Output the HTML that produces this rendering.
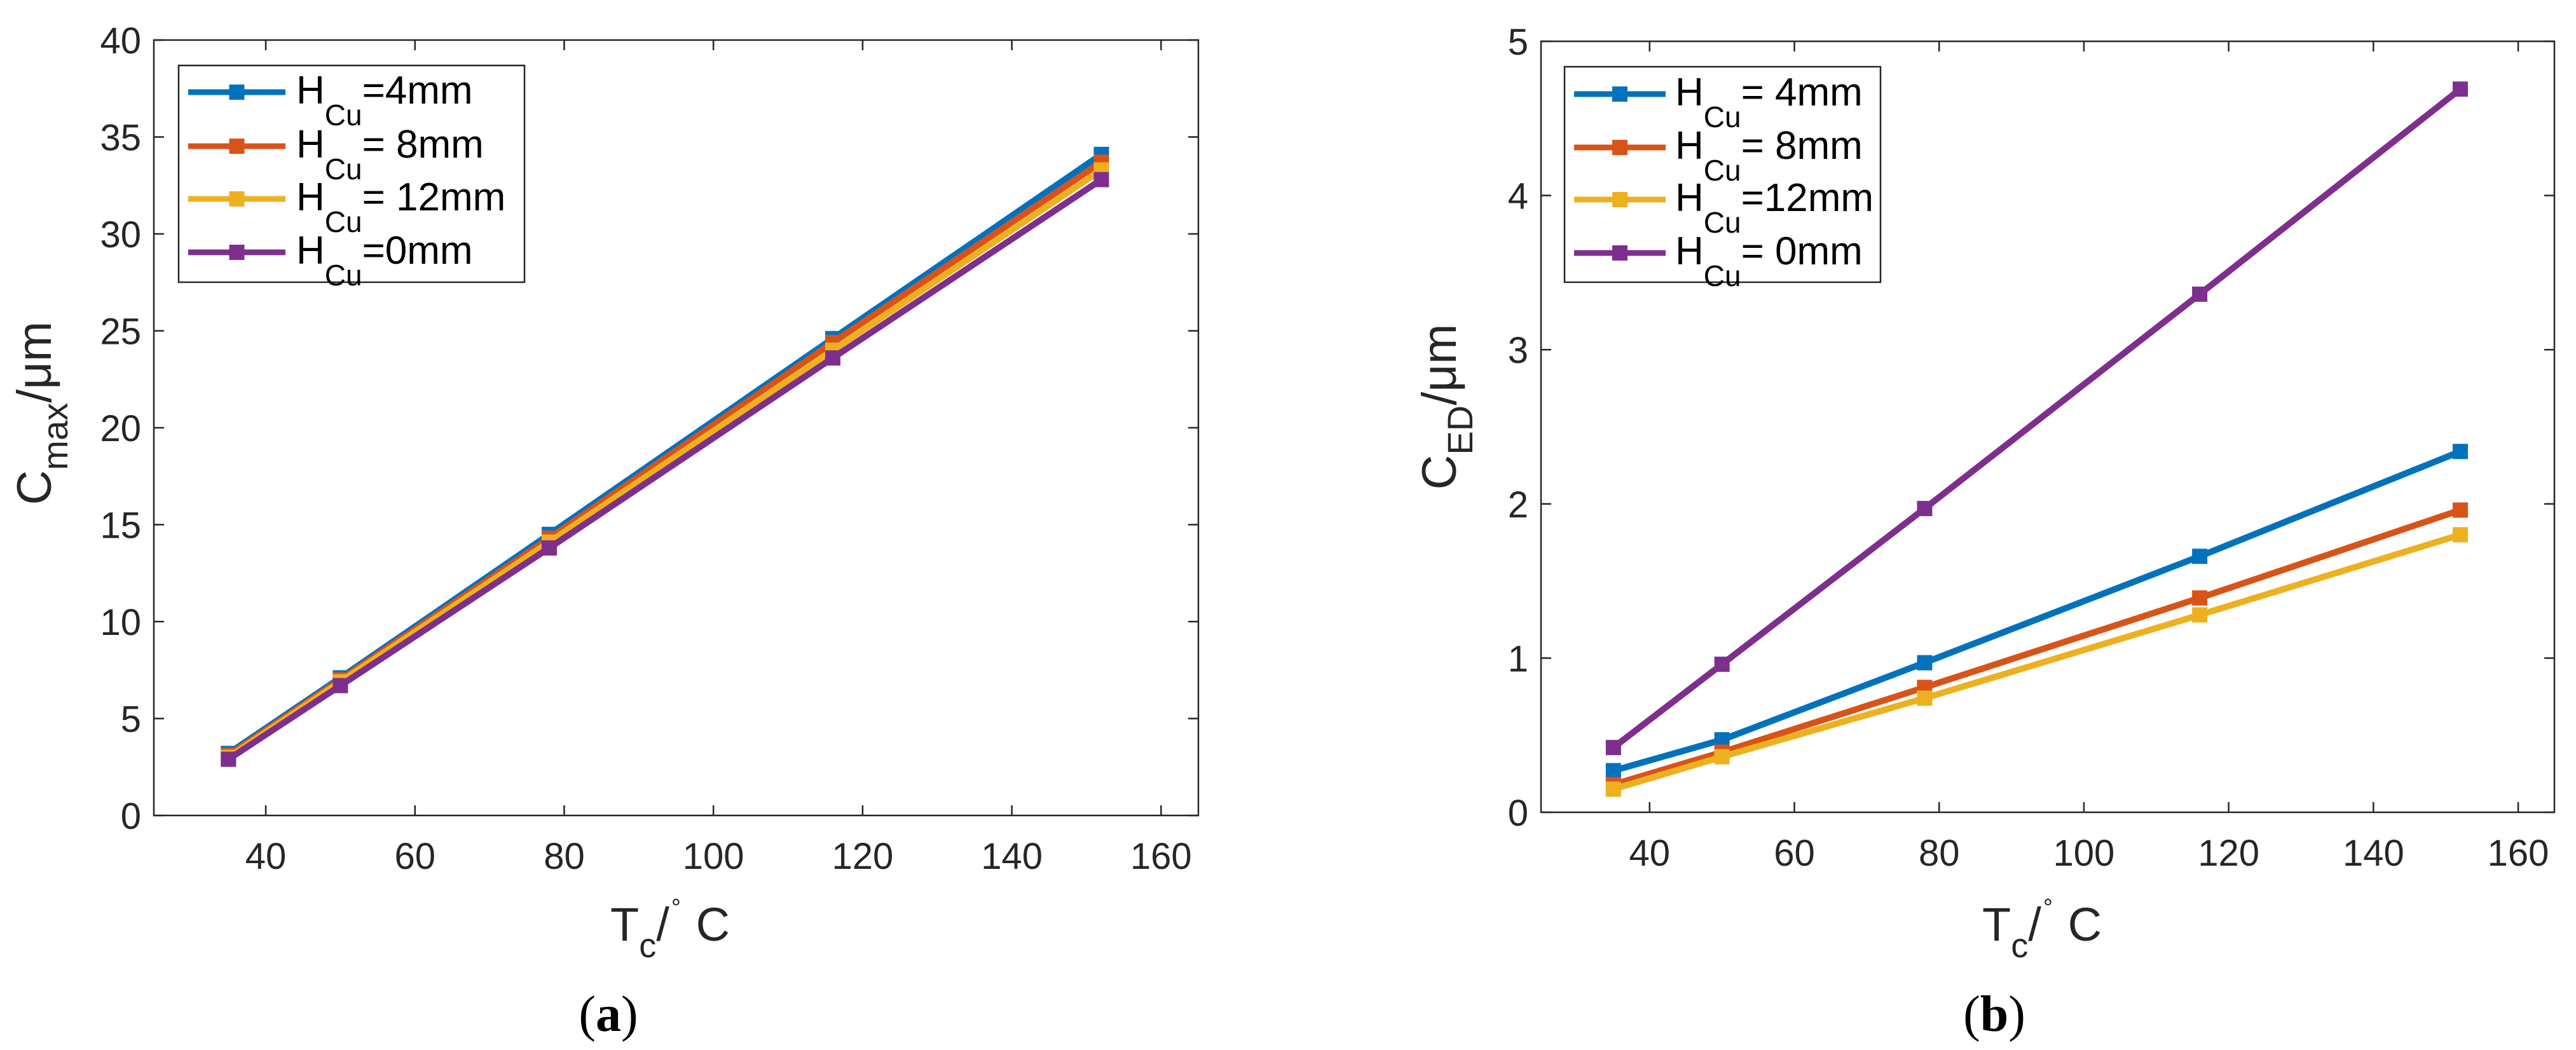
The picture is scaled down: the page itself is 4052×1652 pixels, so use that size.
<!DOCTYPE html>
<html><head><meta charset="utf-8"><style>
html,body{margin:0;padding:0;background:#fff;}
svg{display:block;font-family:"Liberation Sans",Arial,sans-serif;}
</style></head><body>
<svg id="fig" width="4052" height="1652" viewBox="0 0 4052 1652" xmlns="http://www.w3.org/2000/svg">
<rect x="0" y="0" width="4052" height="1652" fill="#fff"/>
</svg>
<script>
const xValues = [35, 50, 78, 116, 152];
const xTicks = [40, 60, 80, 100, 120, 140, 160];
// Panel (a) C_max
const aH4 = [3.2, 7.1, 14.5, 24.6, 34.1];
const aH8 = [3.1, 7.0, 14.3, 24.4, 33.7];
const aH12 = [3.0, 6.9, 14.1, 24.0, 33.3];
const aH0 = [2.9, 6.7, 13.8, 23.6, 32.8];
const aYTicks = [0, 5, 10, 15, 20, 25, 30, 35, 40];
const aLegend = ["=4mm", "= 8mm", "= 12mm", "=0mm"];
// Panel (b) C_ED
const bH4 = [0.27, 0.47, 0.97, 1.66, 2.34];
const bH8 = [0.18, 0.39, 0.81, 1.39, 1.96];
const bH12 = [0.15, 0.36, 0.74, 1.28, 1.80];
const bH0 = [0.42, 0.96, 1.97, 3.36, 4.69];
const bYTicks = [0, 1, 2, 3, 4, 5];
const bLegend = ["= 4mm", "= 8mm", "=12mm", "= 0mm"];
const colors = ["#0072BD", "#D95319", "#EDB120", "#7E2F8E"];

const NS = "http://www.w3.org/2000/svg";
const svg = document.getElementById("fig");
function mk(tag, attrs, parent) {
  const e = document.createElementNS(NS, tag);
  for (const k in attrs) e.setAttribute(k, attrs[k]);
  (parent || svg).appendChild(e);
  return e;
}

function panel(cfg) {
  const g = mk("g", {});
  
  
  const L = cfg.L, R = cfg.R, T = cfg.T, B = cfg.B;
  const sx = v => L + (v - 25) / 140 * (R - L);
  const sy = v => B - (v - cfg.ymin) / (cfg.ymax - cfg.ymin) * (B - T);
  mk("rect", {x: L, y: T, width: R - L, height: B - T, fill: "#fff", stroke: "#262626", "stroke-width": 2.5}, g);
  xTicks.forEach(t => {
    const x = sx(t);
    mk("line", {x1: x, y1: B, x2: x, y2: B - 16, stroke: "#262626", "stroke-width": 2.5}, g);
    mk("line", {x1: x, y1: T, x2: x, y2: T + 16, stroke: "#262626", "stroke-width": 2.5}, g);
    const tx = mk("text", {x: x, y: B + 84, "font-size": 58, "text-anchor": "middle", fill: "#262626"}, g);
    tx.textContent = t;
    
    
  });
  cfg.yTicks.forEach(t => {
    const y = sy(t);
    mk("line", {x1: L, y1: y, x2: L + 16, y2: y, stroke: "#262626", "stroke-width": 2.5}, g);
    mk("line", {x1: R, y1: y, x2: R - 16, y2: y, stroke: "#262626", "stroke-width": 2.5}, g);
    const tx = mk("text", {x: L - 20, y: y + 21, "font-size": 58, "text-anchor": "end", fill: "#262626"}, g);
    tx.textContent = t;
    
    
  });
  cfg.series.forEach((s, i) => {
    const sg = mk("g", {}, g);
    
    
    const pts = xValues.map((xv, j) => sx(xv) + "," + sy(s[j])).join(" ");
    mk("polyline", {points: pts, fill: "none", stroke: colors[i], "stroke-width": 10, "stroke-linejoin": "miter"}, sg);
    xValues.forEach((xv, j) => {
      const r = mk("rect", {x: sx(xv) - 12, y: sy(s[j]) - 12, width: 24, height: 24, fill: colors[i]}, sg);
      
      
    });
  });
  const lg = mk("g", {}, g);
  
  
  const lb = cfg.legend;
  mk("rect", {x: lb.x, y: lb.y, width: lb.w, height: lb.h, fill: "#fff", stroke: "#262626", "stroke-width": 2.5}, lg);
  cfg.legendOrder.forEach((ci, k) => {
    const y = lb.rows[k];
    const eg = mk("g", {}, lg);
    
    
    mk("line", {x1: lb.lx1, y1: y, x2: lb.lx2, y2: y, stroke: colors[ci], "stroke-width": 9}, eg);
    mk("rect", {x: (lb.lx1 + lb.lx2) / 2 - 12, y: y - 12, width: 24, height: 24, fill: colors[ci]}, eg);
    const t = mk("text", {x: lb.tx, y: y + 18, "font-size": 62, fill: "#000"}, eg);
    t.innerHTML = 'H<tspan font-size="46" dy="34">Cu</tspan><tspan dy="-34">' + cfg.legendText[k] + '</tspan>';
  });
  const yl = mk("text", {transform: "translate(" + cfg.ylx + "," + cfg.yly + ") rotate(-90)", "font-size": 76, "text-anchor": "middle", fill: "#262626"}, g);
  yl.innerHTML = 'C<tspan font-size="56" dy="26">' + cfg.ysub + '</tspan><tspan dy="-26">/μm</tspan>';
  
  
  const xl = mk("text", {x: cfg.xlx, y: 1480, "font-size": 74, fill: "#262626"}, g);
  xl.innerHTML = 'T<tspan font-size="54" dy="26">c</tspan><tspan dy="-26">/</tspan><tspan font-size="34" dy="-50">∘</tspan><tspan dy="50"> C</tspan>';
  
  
  const cap = mk("text", {x: cfg.capx, y: 1622, "font-size": 80, "text-anchor": "middle", fill: "#000", "font-family": "Liberation Serif, serif"}, g);
  cap.innerHTML = '(<tspan font-weight="bold">' + cfg.cap + '</tspan>)';
  
  
}

panel({
  name: "panel-a", L: 242, R: 1885, T: 63, B: 1283, ymin: 0, ymax: 40, yTicks: aYTicks,
  series: [aH4, aH8, aH12, aH0], keys: ["h4", "h8", "h12", "h0"],
  legend: {x: 281, y: 103, w: 544, h: 341, rows: [145, 230, 313, 397], lx1: 296, lx2: 449, tx: 466},
  legendOrder: [0, 1, 2, 3], legendText: aLegend,
  ylx: 80, yly: 650, ysub: "max", xlx: 960, capx: 957, cap: "a"
});
panel({
  name: "panel-b", L: 2424, R: 4018, T: 65, B: 1278, ymin: 0, ymax: 5, yTicks: bYTicks,
  series: [bH4, bH8, bH12, bH0], keys: ["h4", "h8", "h12", "h0"],
  legend: {x: 2461, y: 105, w: 497, h: 339, rows: [148, 232, 314, 398], lx1: 2476, lx2: 2620, tx: 2635},
  legendOrder: [0, 1, 2, 3], legendText: bLegend,
  ylx: 2290, yly: 640, ysub: "ED", xlx: 3118, capx: 3137, cap: "b"
});
</script>
</body></html>
